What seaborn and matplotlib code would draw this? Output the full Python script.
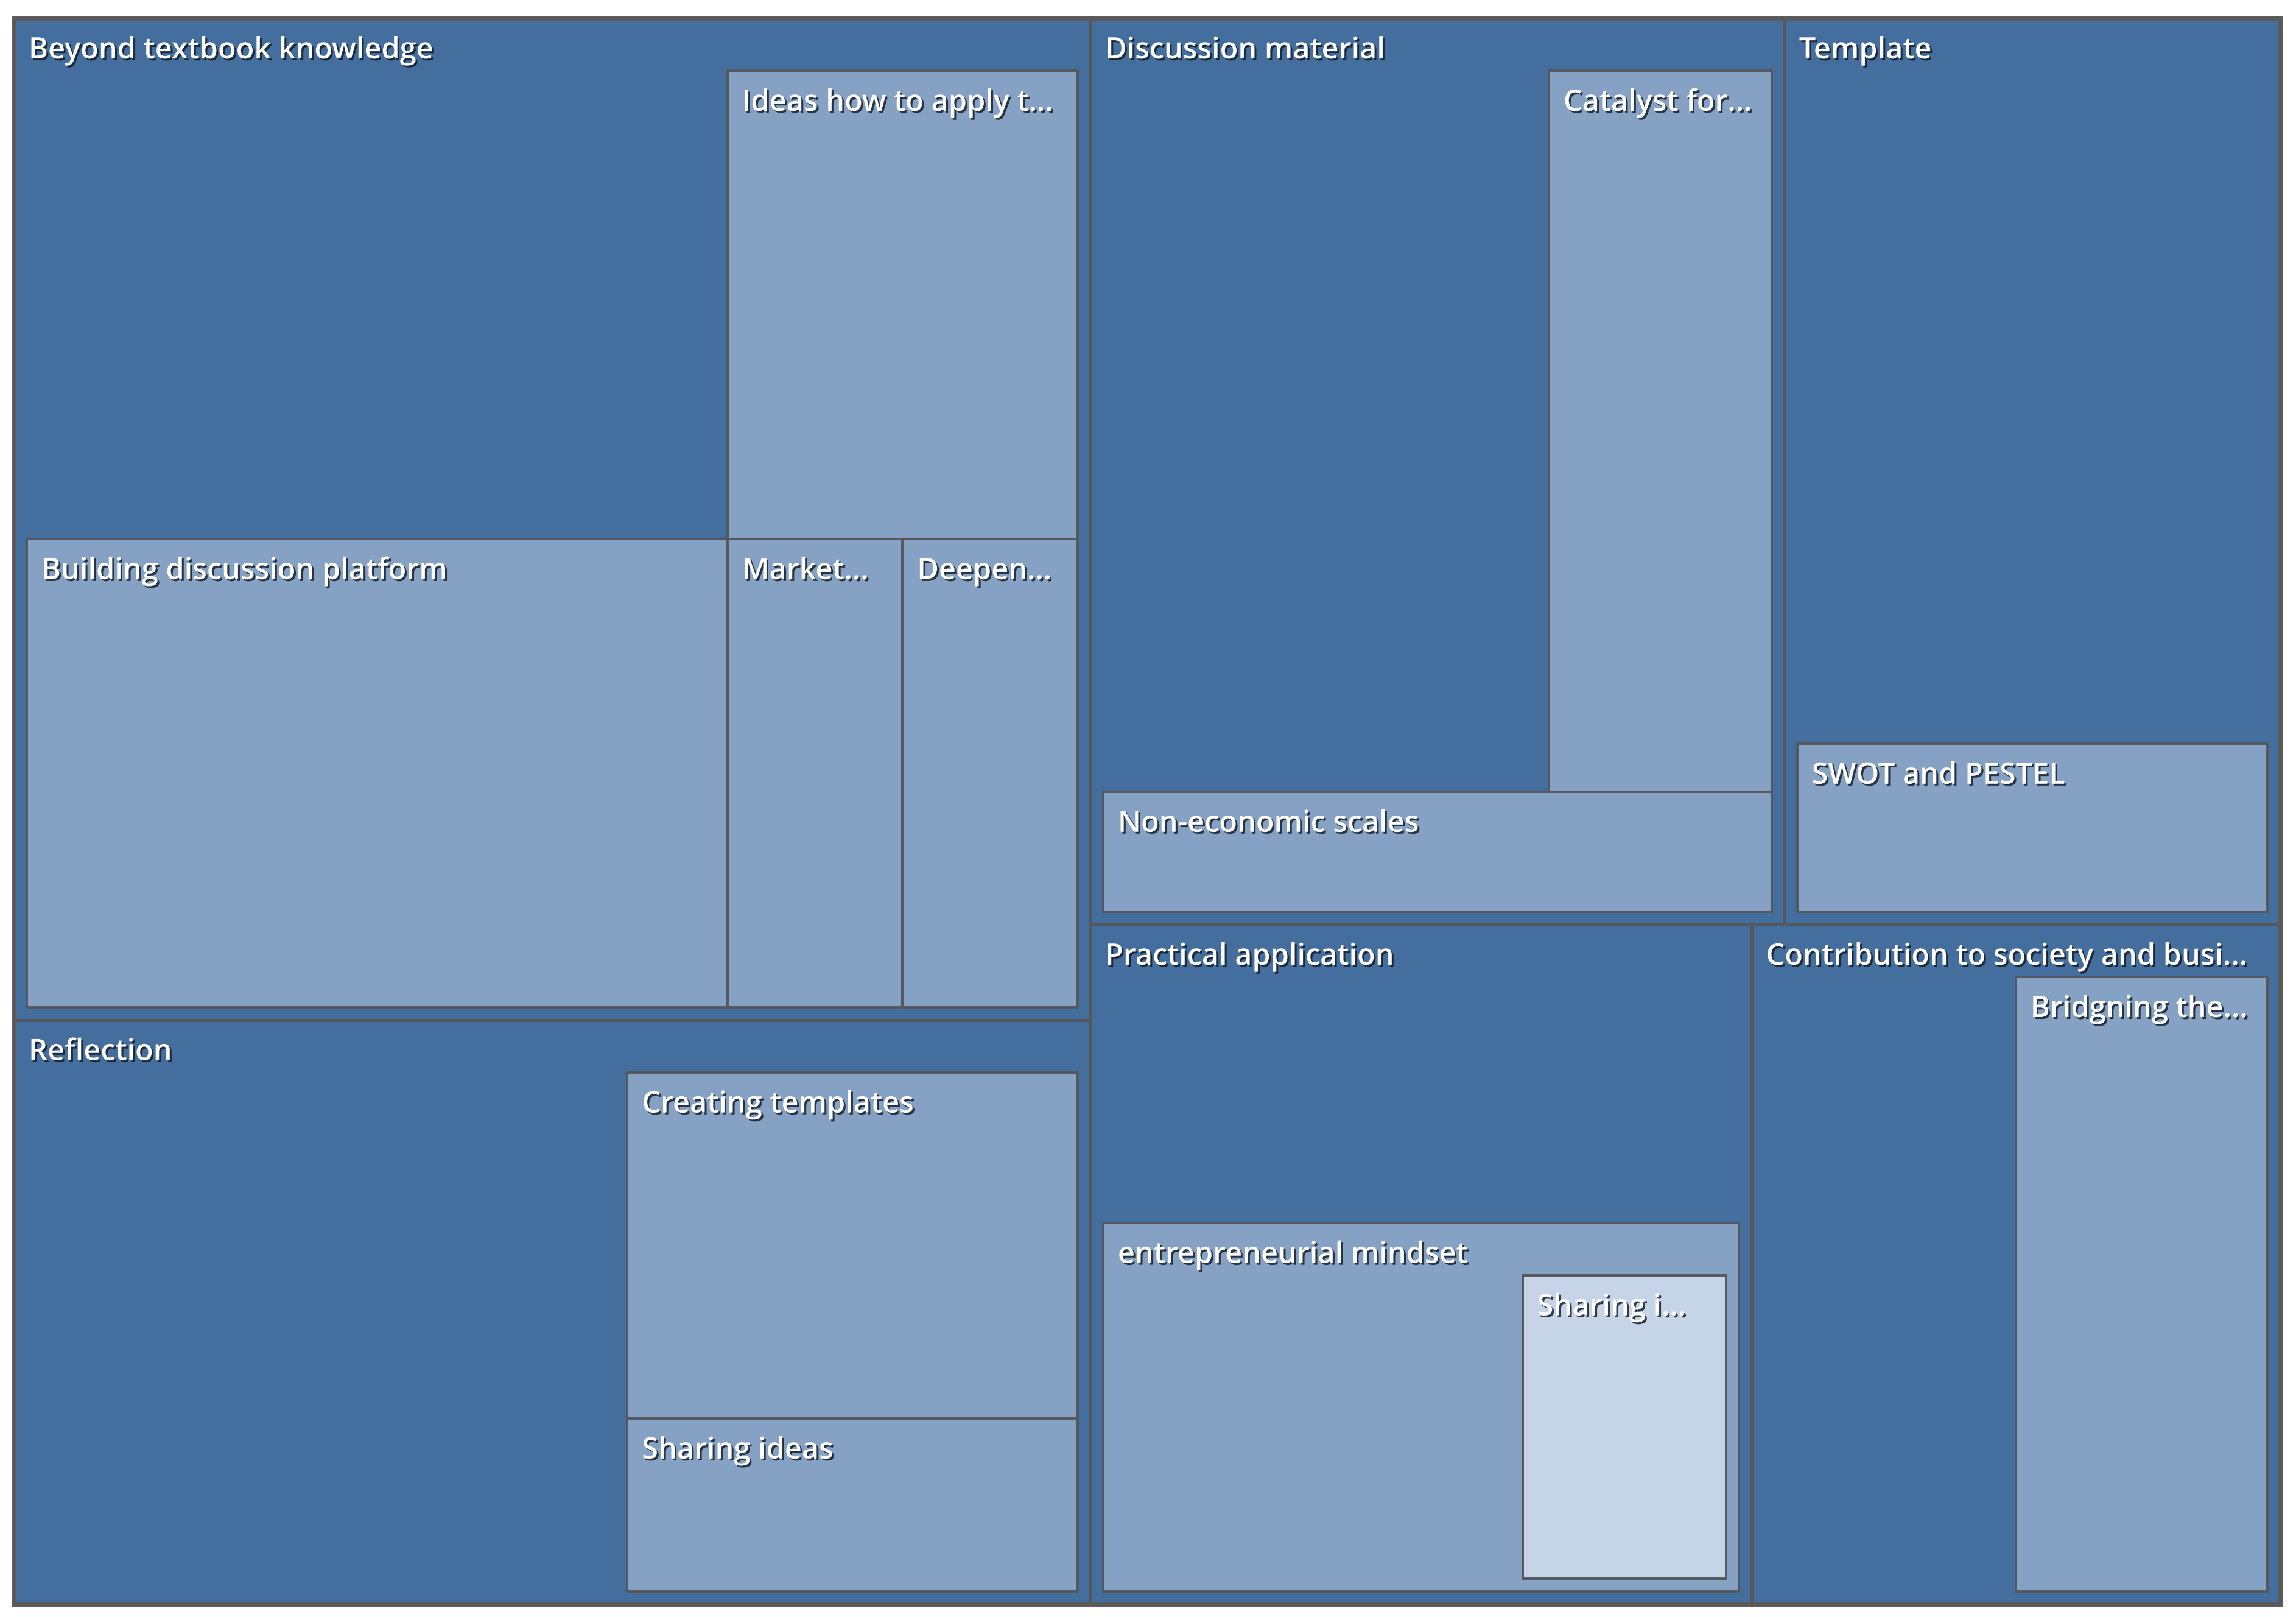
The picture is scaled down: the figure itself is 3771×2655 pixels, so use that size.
import matplotlib
matplotlib.use("Agg")
import matplotlib.pyplot as plt
import matplotlib.patheffects as pe
from matplotlib.patches import Rectangle
import seaborn as sns

# 一级节点（自身编码数）
top_names = ["Beyond textbook knowledge", "Reflection", "Discussion material",
             "Template", "Practical application", "Contribution to society and busi..."]
top_own = [4, 4, 4, 4, 2, 2]

# 二级节点
child_parent = [0, 0, 0, 0, 1, 1, 2, 2, 3, 4, 5]
child_names = ["Building discussion platform", "Ideas how to apply t...", "Market...", "Deepen...",
               "Creating templates", "Sharing ideas",
               "Catalyst for...", "Non-economic scales",
               "SWOT and PESTEL",
               "entrepreneurial mindset",
               "Bridgning the..."]
child_own = [4, 2, 1, 1, 2, 1, 2, 1, 1, 2, 2]

# 三级节点
grand_parent = [9]
grand_names = ["Sharing i..."]
grand_own = [1]

PHI = (1 + 5 ** 0.5) / 2


def squarify(values, x0, y0, x1, y1):
    # 黄金比例 squarify（与 d3.treemapSquarify 相同）
    rects = []
    total = float(sum(values))
    i0 = i1 = 0
    n = len(values)
    while i0 < n:
        dx, dy = x1 - x0, y1 - y0
        s = values[i1]
        i1 += 1
        vmin = vmax = s
        alpha = max(dy / dx, dx / dy) / (total * PHI)
        beta = s * s * alpha
        best = max(vmax / beta, beta / vmin)
        while i1 < n:
            v = values[i1]
            s2 = s + v
            beta = s2 * s2 * alpha
            r = max(max(vmax, v) / beta, beta / min(vmin, v))
            if r > best:
                break
            s, best = s2, r
            vmin, vmax = min(vmin, v), max(vmax, v)
            i1 += 1
        row = values[i0:i1]
        if dx < dy:
            h = dy * s / total
            x = x0
            for v in row:
                w = dx * v / s
                rects.append((x, y0, x + w, y0 + h))
                x += w
            y0 += h
        else:
            w = dx * s / total
            y = y0
            for v in row:
                h = dy * v / s
                rects.append((x0, y, x0 + w, y + h))
                y += h
            x0 += w
        total -= s
        i0 = i1
    return rects


# 组装层级
def make(name, own):
    return {"name": name, "own": own, "children": []}


tops = [make(n, o) for n, o in zip(top_names, top_own)]
childs = [make(n, o) for n, o in zip(child_names, child_own)]
for p, c in zip(child_parent, childs):
    tops[p]["children"].append(c)
for p, n, o in zip(grand_parent, grand_names, grand_own):
    childs[p]["children"].append(make(n, o))


def value(node):
    return node["own"] + sum(value(c) for c in node["children"])


sns.set_theme(style="white")
plt.rcParams["font.family"] = ["Open Sans", "DejaVu Sans"]

colors = sns.blend_palette(["#436E9E", "#C6D4E8"], 3)
edge = "#54585e"
PAD, HEAD = 21, 86

W, H = 3771, 2655
fig = plt.figure(figsize=(W / 100, H / 100), dpi=100)
ax = fig.add_axes([0, 0, 1, 1])
ax.set_xlim(0, W)
ax.set_ylim(H, 0)
ax.axis("off")

shadow = [pe.withSimplePatchShadow(offset=(2.2, -2.2), shadow_rgbFace="#15202c", alpha=0.85)]


def draw(node, rect, depth):
    x0, y0, x1, y1 = rect
    ax.add_patch(Rectangle((x0, y0), x1 - x0, y1 - y0, facecolor=colors[depth],
                           edgecolor=edge, lw=3.6 if depth == 0 else 2.8, zorder=depth + 1))
    ax.text(x0 + 24, y0 + 66, node["name"], color="white", fontsize=35, fontweight="semibold",
            va="baseline", ha="left", zorder=10, path_effects=shadow)
    if node["children"]:
        vals = [node["own"]] + [value(c) for c in node["children"]]
        rects = squarify(vals, x0 + PAD, y0 + HEAD, x1 - PAD, y1 - PAD)
        for c, r in zip(node["children"], rects[1:]):
            draw(c, r, depth + 1)


frame = (23, 30, 3745, 2634)
for node, r in zip(tops, squarify([value(t) for t in tops], *frame)):
    draw(node, r, 0)
ax.add_patch(Rectangle((frame[0], frame[1]), frame[2] - frame[0], frame[3] - frame[1],
                       facecolor="none", edgecolor="#5a5a5a", lw=5, zorder=5))

fig.savefig("out.png", dpi=100, facecolor="white")
